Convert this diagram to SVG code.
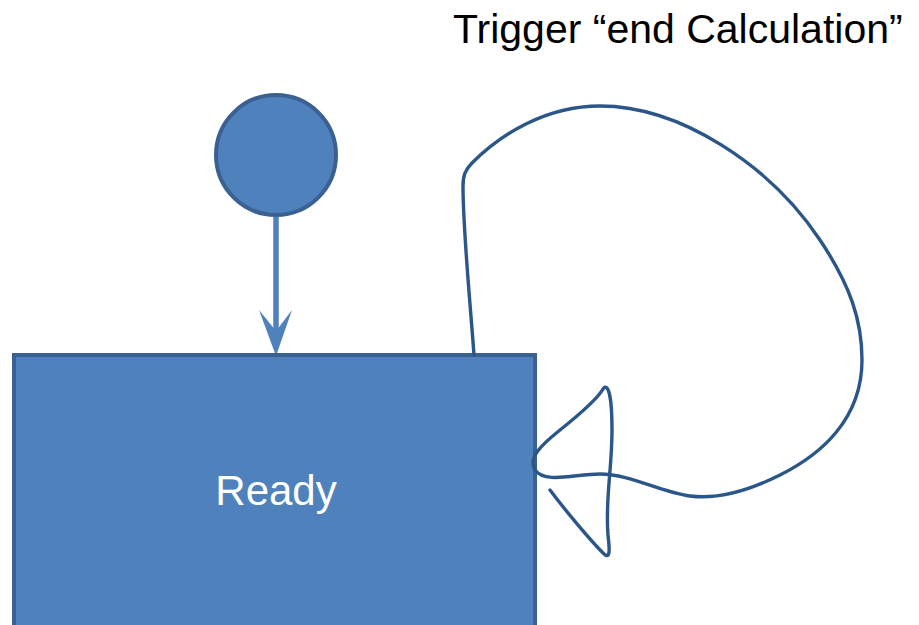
<svg xmlns="http://www.w3.org/2000/svg" width="919" height="625" viewBox="0 0 919 625">
  <style>
    .shape { fill: #4F81BD; stroke: #3A6192; stroke-width: 4; }
    .label { font-family: "Liberation Sans", Arial, sans-serif; }
    .edge { fill: none; stroke: #4F81BD; stroke-width: 5.5; }
    .head { fill: #4F81BD; }
    .loop { fill: none; stroke: #2A5689; stroke-width: 3.4; stroke-linecap: round; stroke-linejoin: round; }
  </style>

  <rect width="919" height="625" fill="#FFFFFF"/>

  <!-- trigger caption -->
  <text class="label" x="453" y="43" font-size="41" fill="#000000">Trigger “end Calculation”</text>

  <!-- connectors -->
  <g id="connectors">
    <line class="edge" x1="276" y1="217" x2="276" y2="332"/>
    <path class="head" d="M276 356 L292 310 L276 331 L259 310 Z"/>
  </g>

  <!-- initial pseudo-state -->
  <g id="initial">
    <circle class="shape" cx="276" cy="155" r="60"/>
  </g>

  <!-- Ready state -->
  <g id="ready">
    <rect class="shape" x="14" y="355" width="521" height="290"/>
    <text class="label" x="276" y="505" font-size="42" fill="#FFFFFF" text-anchor="middle">Ready</text>
  </g>

  <!-- hand-drawn self transition -->
  <g id="self-loop">
    <path class="loop" d="M474 355
      C470 300, 463 230, 463 186
      C463 176, 465 170, 472 163
      C500 135, 545 106, 600 106
      C680 106, 770 165, 820 240
      C850 285, 862 320, 862 360
      C862 420, 820 455, 780 475
      C750 490, 720 500, 690 496
      C660 492, 630 474, 600 474
      C575 474, 545 484, 535 470
      C528 458, 540 446, 560 430
      C580 414, 598 398, 603 389
      C608 382, 612 395, 612 430
      C612 470, 605 500, 608 535
      C610 552, 610 560, 603 553
      C590 540, 565 510, 550 490"/>
  </g>
</svg>
